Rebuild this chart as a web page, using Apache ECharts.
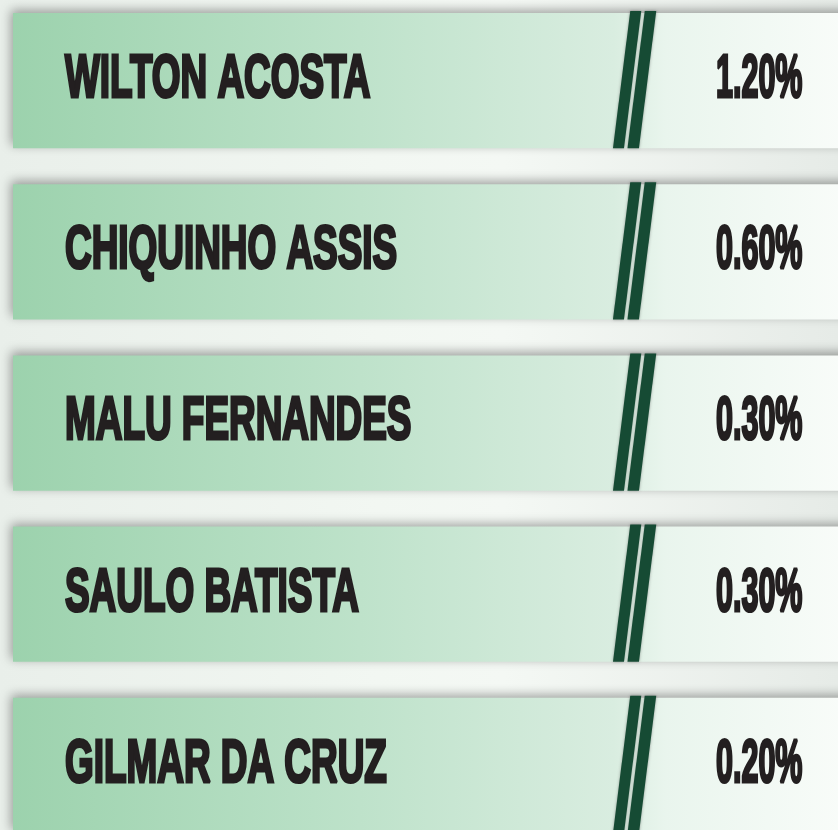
<!DOCTYPE html>
<html>
<head>
<meta charset="utf-8">
<script src="https://cdn.jsdelivr.net/npm/echarts@6/dist/echarts.min.js"></script>
<style>
html,body{margin:0;padding:0;}
body{background:linear-gradient(90deg,#e9efea 0%,#f2f7f2 45%,#f4f8f4 60%,#e6ebe7 100%);}
#chart{width:838px;height:830px;}
</style>
</head>
<body>
<div id="chart"></div>
<script>
const names = ['WILTON ACOSTA', 'CHIQUINHO ASSIS', 'MALU FERNANDES', 'SAULO BATISTA', 'GILMAR DA CRUZ'];
const values = [1.20, 0.60, 0.30, 0.30, 0.20];

const chart = echarts.init(document.getElementById('chart'), null, {renderer: 'canvas'});

const FONT = '"Liberation Sans", Arial, sans-serif';

function renderItem(params, api) {
  const idx = api.value(1);
  const cy = api.coord([0, idx])[1];
  const band = Math.abs(api.size([0, 1])[1]);
  const h = band * 0.79;
  const top = cy - h / 2;
  const bottom = cy + h / 2;
  const cs = params.coordSys;
  const left = cs.x + 13;
  const pct = api.value(0);
  const slope = 17 / 135;
  const topA = cs.x + 630, topB = cs.x + 644.5;
  const w1 = 11, w2 = 11.5;
  const t0 = top - 2, b0 = bottom;
  function stripe(tx, w) {
    const dxTop = (top - t0) * slope;
    return {
      type: 'polygon',
      shape: {points: [
        [tx + dxTop, t0], [tx + w + dxTop, t0],
        [tx + w - (b0 - top) * slope, b0], [tx - (b0 - top) * slope, b0]
      ]},
      style: {fill: '#164b34', shadowBlur: 3, shadowColor: 'rgba(0,0,0,0.35)'}
    };
  }
  function txt(x, s, sx) {
    return {
      type: 'text',
      x: x,
      y: cy - 0.5,
      scaleX: sx,
      style: {
        text: s,
        fontFamily: FONT,
        fontWeight: 'bold',
        fontSize: 61,
        fill: '#231f20',
        stroke: '#231f20',
        lineWidth: 3.2,
        lineJoin: 'miter',
        align: 'left',
        verticalAlign: 'middle'
      }
    };
  }
  return {
    type: 'group',
    children: [
      {
        type: 'rect',
        shape: {x: left, y: top, width: cs.width + 20, height: h},
        style: {
          fill: new echarts.graphic.LinearGradient(0, 0, 1, 0, [
            {offset: 0, color: '#9cd2ad'},
            {offset: 0.35, color: '#b9e0c6'},
            {offset: 0.7, color: '#d9ede0'},
            {offset: 0.76, color: '#e9f5ed'},
            {offset: 1, color: '#fbfdfb'}
          ]),
          shadowBlur: 10,
          shadowColor: 'rgba(0,0,0,0.35)',
          shadowOffsetX: -2,
          shadowOffsetY: -3
        }
      },
      stripe(topA, w1),
      stripe(topB, w2),
      txt(cs.x + 65, names[idx], 0.605),
      txt(cs.x + 716, pct.toFixed(2) + '%', 0.5)
    ]
  };
}

chart.setOption({
  animation: false,
  grid: {left: 0, right: 0, top: 0, bottom: 0},
  xAxis: {type: 'value', min: 0, max: 2, show: false},
  yAxis: {type: 'value', min: -0.4708, max: 4.377, inverse: true, show: false},
  series: [{
    type: 'custom',
    renderItem: renderItem,
    clip: false,
    data: values.map((v, i) => [v, i])
  }]
});
</script>
</body>
</html>
